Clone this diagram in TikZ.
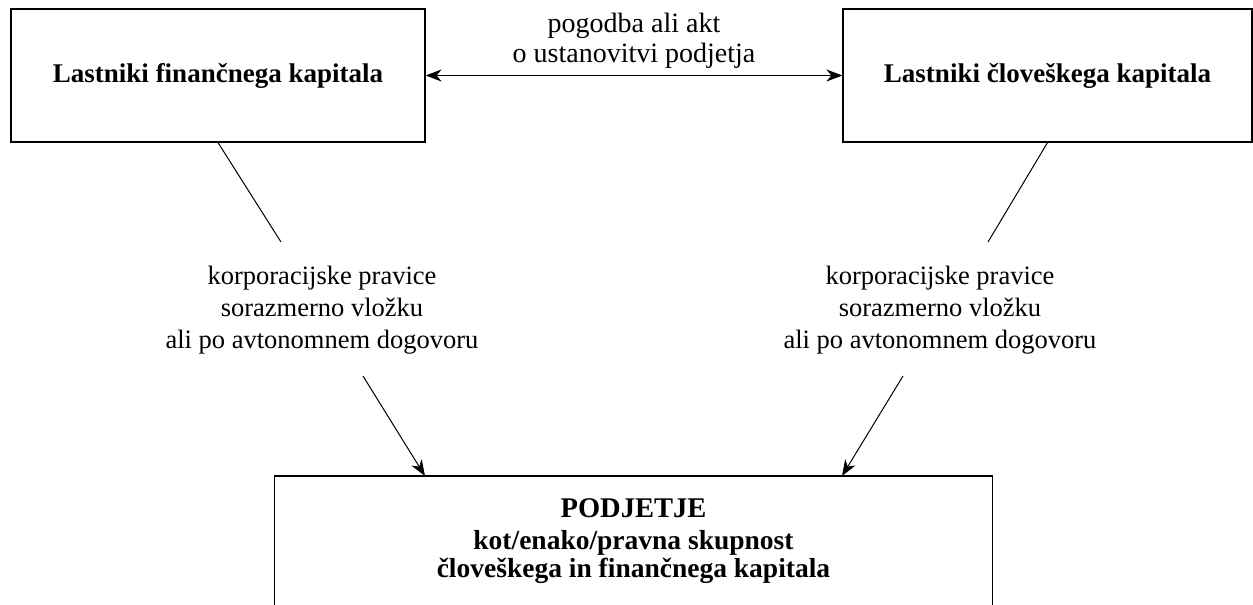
\documentclass[tikz,border=0pt]{standalone}
\usepackage{fontspec}
\setmainfont{Liberation Serif}
\usetikzlibrary{arrows.meta}
\tikzset{
  owner/.style={draw, line width=1.2pt, minimum height=133pt, font=\fontsize{27}{32}\selectfont\bfseries},
  note/.style={align=center, font=\fontsize{26.5}{32}\selectfont},
  link/.style={line width=1pt},
  tip/.style={link, -{Stealth[length=16pt,width=12pt,inset=5pt]}},
  tips/.style={link, {Stealth[length=16pt,width=12pt,inset=5pt]}-{Stealth[length=16pt,width=12pt,inset=5pt]}}
}
\begin{document}
\begin{tikzpicture}[x=1pt,y=-1pt]
\useasboundingbox (0,0) rectangle (1253,605);
\node[owner, minimum width=414pt] (fin) at (218,75.5) {Lastniki finančnega kapitala};
\node[owner, minimum width=409pt] (clo) at (1047.5,75.5) {Lastniki človeškega kapitala};
\node[note, font=\fontsize{28}{30}\selectfont] (pog) at (634,41) {pogodba ali akt\\o ustanovitvi podjetja};
\draw[tips] (fin.east) -- (clo.west);

\node[note] (korL) at (322,310) {korporacijske pravice\\sorazmerno vložku\\ali po avtonomnem dogovoru};
\node[note] (korR) at (940,310) {korporacijske pravice\\sorazmerno vložku\\ali po avtonomnem dogovoru};
\coordinate (aL) at ([shift={(-41,-68)}]korL.center);
\coordinate (bL) at ([shift={(41,66)}]korL.center);
\coordinate (aR) at ([shift={(48,-68)}]korR.center);
\coordinate (bR) at ([shift={(-37,66)}]korR.center);

\node[align=center, minimum width=717pt, minimum height=130pt, anchor=north,
  font=\fontsize{27.5}{28}\selectfont\bfseries] (podj) at (633.5,476)
  {{\fontsize{28.5}{28}\selectfont PODJETJE}\\[4pt]kot/enako/pravna skupnost\\človeškega in finančnega kapitala};
\draw[line width=1.2pt] ([yshift=-10pt]podj.south west) -- (podj.north west) -- (podj.north east) -- ([yshift=-10pt]podj.south east);

\draw[link] (fin.south) -- (aL);
\draw[tip] (bL) -- ([xshift=-208.5pt]podj.north);
\draw[link] (clo.south) -- (aR);
\draw[tip] (bR) -- ([xshift=208.5pt]podj.north);
\end{tikzpicture}
\end{document}
